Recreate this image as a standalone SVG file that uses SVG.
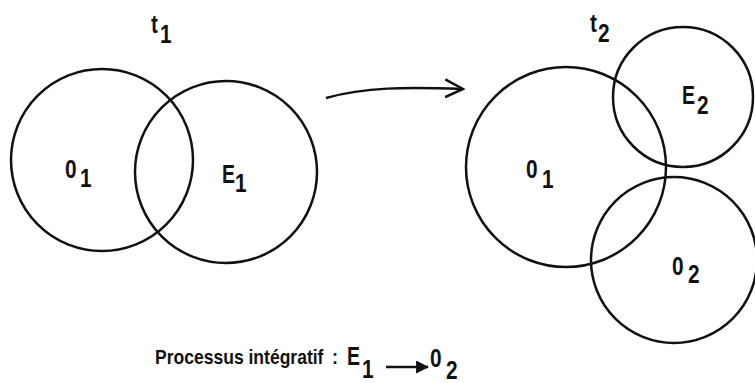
<svg xmlns="http://www.w3.org/2000/svg" width="755" height="383" viewBox="0 0 755 383">
<style>
.c{fill:none;stroke:#111;stroke-width:2.5}
.t{font-family:"Liberation Sans",Arial,sans-serif;font-size:26px;font-weight:bold;fill:#111}
.cap{font-family:"Liberation Sans",Arial,sans-serif;font-size:21px;font-weight:bold;fill:#111}
</style>
<defs>
<marker id="open" viewBox="0 0 20 20" refX="18" refY="10" markerWidth="20" markerHeight="20" markerUnits="userSpaceOnUse" orient="auto">
<path d="M0,1 L18,10 L0,19" fill="none" stroke="#111" stroke-width="2.5"/>
</marker>
<marker id="solid" viewBox="0 0 12 12" refX="11" refY="6" markerWidth="13" markerHeight="13" markerUnits="userSpaceOnUse" orient="auto">
<path d="M0,0 L12,6 L0,12 Z" fill="#111"/>
</marker>
</defs>
<rect width="755" height="383" fill="#fff"/>
<g id="label-t1"><text class="t" transform="translate(151,33) scale(0.8,1)">t</text><text class="t" transform="translate(160,43) scale(0.8,1)">1</text></g>
<g id="left-O1"><circle class="c" cx="102" cy="160" r="91"/><text class="t" transform="translate(65,178) scale(0.8,1)">0</text><text class="t" transform="translate(80,187) scale(0.8,1)">1</text></g>
<g id="left-E1"><circle class="c" cx="226" cy="172" r="91"/><text class="t" transform="translate(222,183) scale(0.75,1)">E</text><text class="t" transform="translate(235,192) scale(0.8,1)">1</text></g>
<g id="connectors"><path class="c" d="M326,98 C365,87 405,87 463,89" marker-end="url(#open)"/></g>
<g id="label-t2"><text class="t" transform="translate(590,32) scale(0.8,1)">t</text><text class="t" transform="translate(598,42) scale(0.8,1)">2</text></g>
<g id="right-O1"><circle class="c" cx="566" cy="167" r="100"/><text class="t" transform="translate(526,178) scale(0.8,1)">0</text><text class="t" transform="translate(542,188) scale(0.8,1)">1</text></g>
<g id="right-E2"><circle class="c" cx="683" cy="97" r="70"/><text class="t" transform="translate(682,104) scale(0.75,1)">E</text><text class="t" transform="translate(697,114) scale(0.8,1)">2</text></g>
<g id="right-O2"><circle class="c" cx="674" cy="260" r="83"/><text class="t" transform="translate(672,275) scale(0.8,1)">0</text><text class="t" transform="translate(688,283) scale(0.8,1)">2</text></g>
<g id="caption">
<text class="cap" transform="translate(155,364) scale(0.835,1)">Processus intégratif</text>
<text class="cap" transform="translate(332,364) scale(0.85,1)">:</text>
<text class="t" transform="translate(347,365) scale(0.75,1)">E</text><text class="t" transform="translate(362,378) scale(0.8,1)">1</text>
<path d="M386,367 L428,367" stroke="#111" stroke-width="2.5" marker-end="url(#solid)"/>
<text class="t" transform="translate(430,367) scale(0.8,1)">0</text><text class="t" transform="translate(446,379) scale(0.8,1)">2</text>
</g>
</svg>
